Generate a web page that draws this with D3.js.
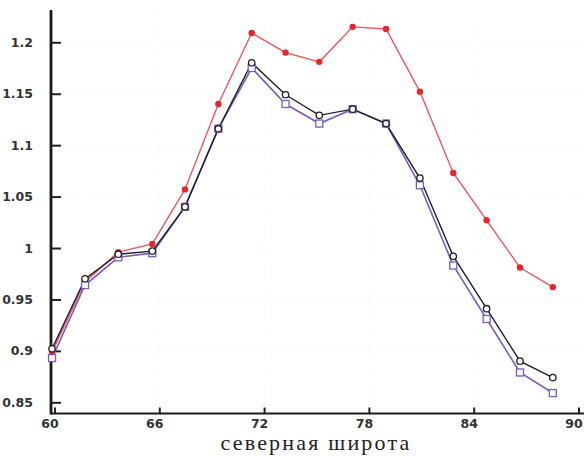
<!DOCTYPE html>
<html>
  <head>
    <meta charset="utf-8">
    <title>северная широта</title>
    <script src="https://d3js.org/d3.v7.min.js"></script>
    <style>
      body { margin: 0; background: #fff; }
    </style>
  </head>
  <body>
    <svg id="canvas" width="584" height="456"></svg>

    <script>
      var latitude = [59.86, 61.75, 63.65, 65.6, 67.47, 69.38, 71.29, 73.23,
                      75.16, 77.07, 78.98, 80.92, 82.83, 84.74, 86.65, 88.53];

      var redSeries = [0.899, 0.967, 0.996, 1.004, 1.057, 1.140, 1.209, 1.190,
                       1.181, 1.215, 1.213, 1.152, 1.073, 1.027, 0.981, 0.962];
      var blackSeries = [0.902, 0.970, 0.994, 0.997, 1.040, 1.116, 1.180, 1.149,
                         1.129, 1.135, 1.121, 1.068, 0.992, 0.941, 0.890, 0.874];
      var purpleSeries = [0.893, 0.964, 0.991, 0.995, 1.040, 1.116, 1.175, 1.140,
                          1.121, 1.135, 1.121, 1.061, 0.983, 0.931, 0.879, 0.859];

      var xTicks = [60, 66, 72, 78, 84, 90];
      var yTicks = [0.85, 0.9, 0.95, 1, 1.05, 1.1, 1.15, 1.2];
      var xTitle = "северная широта";

      var svg = d3.select("#canvas");

      var x = d3.scaleLinear().domain([66, 84]).range([159.3, 473.7]);
      var y = d3.scaleLinear().domain([0.85, 1.2]).range([402.3, 42.3]);

      var axisX0 = 51, axisY0 = 413.5;

      // faint dotted grid
      svg.append("g").selectAll("line")
        .data(xTicks.slice(1, 5))
        .enter()
        .append("line")
        .attr("x1", function(d){ return x(d); })
        .attr("x2", function(d){ return x(d); })
        .attr("y1", 14)
        .attr("y2", axisY0)
        .style("stroke", "#efefef")
        .style("stroke-dasharray", "1,4");

      svg.append("g").selectAll("line")
        .data(yTicks.slice(1))
        .enter()
        .append("line")
        .attr("x1", axisX0)
        .attr("x2", 580)
        .attr("y1", function(d){ return y(d); })
        .attr("y2", function(d){ return y(d); })
        .style("stroke", "#efefef")
        .style("stroke-dasharray", "1,4");

      // y axis
      var yAxis = d3.axisLeft(y)
        .tickValues(yTicks)
        .tickSizeInner(-10)
        .tickSizeOuter(0)
        .tickPadding(18)
        .tickFormat(function(d){ return String(+d.toFixed(2)); });

      var gy = svg.append("g")
        .attr("transform", "translate(" + axisX0 + ",0)")
        .call(yAxis);
      gy.select(".domain").remove();
      gy.selectAll(".tick line").style("stroke", "#222").style("stroke-width", 2);
      gy.selectAll("text")
        .style("font-family", "DejaVu Sans")
        .style("font-size", "12.5px")
        .style("font-weight", "bold")
        .style("fill", "#333");

      // x axis
      var xAxis = d3.axisBottom(x)
        .tickValues(xTicks)
        .tickSizeInner(-6)
        .tickSizeOuter(0)
        .tickPadding(6);

      var gx = svg.append("g")
        .attr("transform", "translate(0," + axisY0 + ")")
        .call(xAxis);
      gx.select(".domain").remove();
      gx.selectAll(".tick line").style("stroke", "#222").style("stroke-width", 2);
      gx.selectAll("text")
        .attr("dx", -5)
        .style("font-family", "DejaVu Sans")
        .style("font-size", "12.5px")
        .style("font-weight", "bold")
        .style("fill", "#333");

      // axis lines
      svg.append("line")
        .attr("x1", axisX0).attr("x2", axisX0)
        .attr("y1", 10).attr("y2", axisY0 + 1)
        .style("stroke", "#1a1a1a").style("stroke-width", 2.8);
      svg.append("line")
        .attr("x1", axisX0).attr("x2", 584)
        .attr("y1", axisY0).attr("y2", axisY0)
        .style("stroke", "#1a1a1a").style("stroke-width", 2);

      var line = d3.line()
        .x(function(d){ return x(d[0]); })
        .y(function(d){ return y(d[1]); });

      function pairs(values){
        return latitude.map(function(lat, i){ return [lat, values[i]]; });
      }

      // red series
      svg.append("path")
        .datum(pairs(redSeries))
        .attr("d", line)
        .style("fill", "none")
        .style("stroke", "#f0585c")
        .style("stroke-width", 1.4);

      // purple series
      svg.append("path")
        .datum(pairs(purpleSeries))
        .attr("d", line)
        .style("fill", "none")
        .style("stroke", "#7a5cc4")
        .style("stroke-width", 1.6);

      // black series
      svg.append("path")
        .datum(pairs(blackSeries))
        .attr("d", line)
        .style("fill", "none")
        .style("stroke", "#1e1e2a")
        .style("stroke-width", 1.4);

      svg.append("g").selectAll("circle")
        .data(pairs(redSeries))
        .enter()
        .append("circle")
        .attr("cx", function(d){ return x(d[0]); })
        .attr("cy", function(d){ return y(d[1]); })
        .attr("r", 3.2)
        .style("fill", "#e8262c");

      svg.append("g").selectAll("rect")
        .data(pairs(purpleSeries))
        .enter()
        .append("rect")
        .attr("x", function(d){ return x(d[0]) - 3.5; })
        .attr("y", function(d){ return y(d[1]) - 3.5; })
        .attr("width", 7)
        .attr("height", 7)
        .style("fill", "#fff")
        .style("stroke", "#7a5cc4")
        .style("stroke-width", 1.3);

      svg.append("g").selectAll("circle")
        .data(pairs(blackSeries))
        .enter()
        .append("circle")
        .attr("cx", function(d){ return x(d[0]); })
        .attr("cy", function(d){ return y(d[1]); })
        .attr("r", 3.2)
        .style("fill", "#fff")
        .style("stroke", "#1e1e1e")
        .style("stroke-width", 1.3);

      // axis title
      svg.append("text")
        .attr("x", 316)
        .attr("y", 450)
        .text(xTitle)
        .style("text-anchor", "middle")
        .style("font-family", "Liberation Serif")
        .style("font-size", "22px")
        .style("letter-spacing", "2.2px")
        .style("fill", "#222");
    </script>
  </body>
</html>
